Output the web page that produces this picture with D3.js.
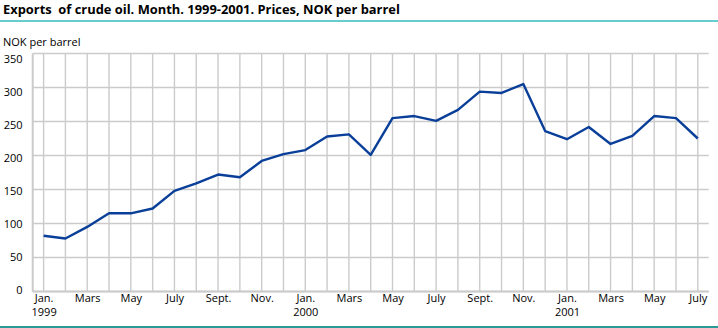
<!DOCTYPE html>
<html>
<head>
<meta charset="utf-8">
<script src="https://cdn.jsdelivr.net/npm/d3@7"></script>
<style>
  html, body { margin: 0; padding: 0; background: #fff; }
  svg { display: block; font-family: "Open Sans", sans-serif; }
</style>
</head>
<body>
<svg id="chart" width="718" height="328"></svg>
<script>
// Monthly export prices of crude oil, NOK per barrel
const periods = [
  "1999M01","1999M02","1999M03","1999M04","1999M05","1999M06",
  "1999M07","1999M08","1999M09","1999M10","1999M11","1999M12",
  "2000M01","2000M02","2000M03","2000M04","2000M05","2000M06",
  "2000M07","2000M08","2000M09","2000M10","2000M11","2000M12",
  "2001M01","2001M02","2001M03","2001M04","2001M05","2001M06",
  "2001M07"
];
const prices = [
  82, 78, 95, 115, 115, 122, 148, 159, 172, 168, 192, 202,
  208, 228, 231, 201, 255, 258, 251, 267, 294, 292, 305, 236,
  224, 242, 217, 229, 258, 255, 225
];
const monthLabels = {
  "01": "Jan.", "03": "Mars", "05": "May", "07": "July", "09": "Sept.", "11": "Nov."
};
const yTicks = [0, 50, 100, 150, 200, 250, 300, 350];
const titleText = "Exports  of crude oil. Month. 1999-2001. Prices, NOK per barrel";
const unitText = "NOK per barrel";

const svg = d3.select("#chart");
const W = 718, H = 328;
const plot = { left: 32.7, right: 708.7, top: 53.5, bottom: 291.5 };

const x = d3.scalePoint().domain(periods).range([plot.left, plot.right]).padding(0.5);
const y = d3.scaleLinear().domain([0, 350]).range([plot.bottom, plot.top]);
// tick numbers sit on a slightly tighter scale than the grid
const yLabel = d3.scaleLinear().domain([0, 350]).range([plot.bottom - 1.5, plot.top + 5]);

// title and rules
svg.append("text")
  .attr("x", 3).attr("y", 13.5)
  .attr("font-size", 12.9).attr("font-weight", "bold")
  .attr("fill", "#000")
  .style("white-space", "pre")
  .text(titleText);
svg.append("rect").attr("x", 0).attr("y", 20).attr("width", W).attr("height", 2).attr("fill", "#66cccc");
svg.append("rect").attr("x", 0).attr("y", 326).attr("width", W).attr("height", 2).attr("fill", "#2a9999");

svg.append("text")
  .attr("x", 3).attr("y", 46)
  .attr("font-size", 11).attr("fill", "#000")
  .text(unitText);

const grid = svg.append("g").attr("stroke", "#cbcbcb").attr("stroke-width", 1.4);

// horizontal grid
grid.selectAll("line.h").data(yTicks).join("line")
  .attr("class", "h")
  .attr("x1", plot.left).attr("x2", W - 9.3)
  .attr("y1", d => y(d)).attr("y2", d => y(d));

// vertical grid, one per month
grid.selectAll("line.v").data(periods).join("line")
  .attr("class", "v")
  .attr("x1", d => x(d)).attr("x2", d => x(d))
  .attr("y1", plot.top).attr("y2", plot.bottom);

// axes lines
grid.append("line").attr("x1", plot.left).attr("x2", plot.left)
  .attr("y1", plot.top).attr("y2", plot.bottom).attr("stroke-width", 2);
grid.append("line").attr("x1", plot.left).attr("x2", W - 9.3)
  .attr("y1", plot.bottom).attr("y2", plot.bottom).attr("stroke-width", 2);

// y tick labels
const yAxis = d3.axisLeft(yLabel).tickValues(yTicks).tickSize(0).tickPadding(0);
const yg = svg.append("g").attr("transform", "translate(22.5,0)").call(yAxis);
yg.select(".domain").remove();
yg.selectAll("text").attr("font-family", "Open Sans, sans-serif").attr("font-size", 11).attr("fill", "#000");

// x tick labels: every other month, year under January
const tickPeriods = periods.filter(p => monthLabels[p.slice(5)]);
const xAxis = d3.axisBottom(x).tickValues(tickPeriods).tickSize(0).tickPadding(0)
  .tickFormat(p => monthLabels[p.slice(5)]);
const xg = svg.append("g").attr("transform", `translate(0,${plot.bottom + 10})`).call(xAxis);
xg.select(".domain").remove();
xg.selectAll("text")
  .attr("font-family", "Open Sans, sans-serif").attr("font-size", 11).attr("fill", "#000")
  .attr("dy", 0);
xg.selectAll(".tick").filter(p => p.slice(5) === "01")
  .append("text")
  .attr("y", 14.5).attr("fill", "#000")
  .attr("font-family", "Open Sans, sans-serif").attr("font-size", 11)
  .attr("text-anchor", "middle")
  .text(p => p.slice(0, 4));

// price line
const line = d3.line()
  .x((d, i) => x(periods[i]))
  .y(d => y(d));
svg.append("path")
  .datum(prices)
  .attr("fill", "none")
  .attr("stroke", "#0a3f99")
  .attr("stroke-width", 2.4)
  .attr("stroke-linejoin", "round")
  .attr("d", line);
</script>
</body>
</html>
